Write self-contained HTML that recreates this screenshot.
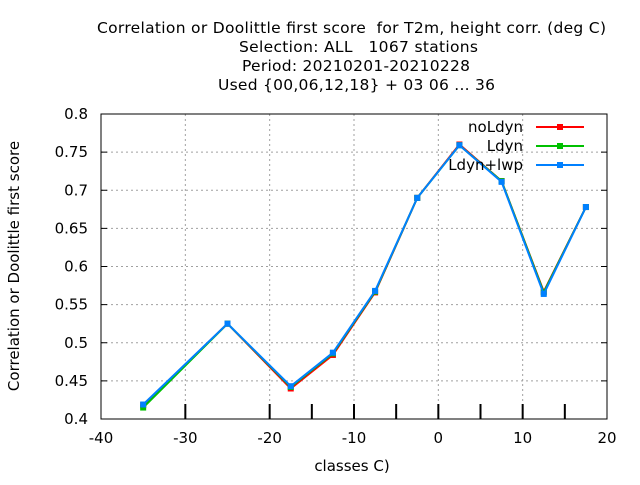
<!DOCTYPE html>
<html><head><meta charset="utf-8"><style>
body{margin:0;background:#fff}
svg text{font-family:"DejaVu Sans","Liberation Sans",sans-serif;font-size:15px;fill:#000;white-space:pre}
svg .tt{font-size:15.5px}
</style></head><body>
<svg id="chart" width="640" height="480">
<g>
<text class="tt" x="97" y="33" textLength="509" xml:space="preserve">Correlation or Doolittle first score  for T2m, height corr. (deg C)</text>
<text class="tt" x="239" y="52" textLength="239" xml:space="preserve">Selection: ALL   1067 stations</text>
<text class="tt" x="242" y="71" textLength="228">Period: 20210201-20210228</text>
<text class="tt" x="218" y="90" textLength="277">Used {00,06,12,18} + 03 06 ... 36</text>
</g>
<g id="grid"></g>
<g id="axes"></g>
<g id="series"></g>
<text x="352" y="471" text-anchor="middle">classes C)</text>
<text transform="translate(19,266) rotate(-90)" text-anchor="middle">Correlation or Doolittle first score</text>
<g id="legend"></g>
</svg>
<script>
const categories=[-35,-25,-17.5,-12.5,-7.5,-2.5,2.5,7.5,12.5,17.5];
const noLdyn=[0.418,0.525,0.440,0.484,0.566,0.690,0.760,0.712,0.567,0.678];
const Ldyn=[0.415,0.525,0.442,0.486,0.567,0.690,0.759,0.712,0.566,0.678];
const LdynLwp=[0.419,0.525,0.443,0.487,0.568,0.690,0.759,0.711,0.564,0.678];
const xTicks=[-40,-30,-20,-10,0,10,20];
const yTicks=[0.4,0.45,0.5,0.55,0.6,0.65,0.7,0.75,0.8];
const yTickLabels=["0.4","0.45","0.5","0.55","0.6","0.65","0.7","0.75","0.8"];
const xMinor=[-30,-20,-15,-10,-5,0,5,10,15];
const seriesNames=["noLdyn","Ldyn","Ldyn+lwp"];
const colors=["#ff0000","#00c000","#0080ff"];
const L=101,R=607,T=114,B=419;
const X=v=>L+(v+40)*(R-L)/60;
const Y=v=>B-(v-0.4)*(B-T)/0.4;
const NS="http://www.w3.org/2000/svg";
function mk(p,tag,a){const e=document.createElementNS(NS,tag);for(const k in a)e.setAttribute(k,a[k]);p.appendChild(e);return e;}
const grid=document.getElementById('grid'),axes=document.getElementById('axes'),ser=document.getElementById('series'),leg=document.getElementById('legend');
xTicks.forEach(t=>{if(t>-40&&t<20){const l=mk(grid,'line',{x1:X(t),x2:X(t),y1:T,y2:B,stroke:'#a0a0a0','stroke-dasharray':'2,3'});

}
const tx=mk(axes,'text',{x:X(t),y:443,'text-anchor':'middle'});tx.textContent=t;

});
yTicks.forEach((t,i)=>{if(i>0&&i<yTicks.length-1){const l=mk(grid,'line',{x1:L,x2:R,y1:Y(t),y2:Y(t),stroke:'#a0a0a0','stroke-dasharray':'2,3'});

}
mk(axes,'line',{x1:L,x2:L+6,y1:Y(t),y2:Y(t),stroke:'#000'});mk(axes,'line',{x1:R,x2:R-6,y1:Y(t),y2:Y(t),stroke:'#000'});
const tx=mk(axes,'text',{x:L-13,y:Y(t)+5,'text-anchor':'end'});tx.textContent=yTickLabels[i];

});
xMinor.forEach(t=>{mk(axes,'line',{x1:X(t),x2:X(t),y1:B,y2:B-15,stroke:'#000','stroke-width':2});});
mk(axes,'rect',{x:L,y:T,width:R-L,height:B-T,fill:'none',stroke:'#000'});
[noLdyn,Ldyn,LdynLwp].forEach((vals,s)=>{
const g=mk(ser,'g',{});


mk(g,'polyline',{points:vals.map((v,i)=>X(categories[i])+','+Y(v)).join(' '),fill:'none',stroke:colors[s],'stroke-width':2});
vals.forEach((v,i)=>{const p=mk(g,'rect',{x:X(categories[i])-3,y:Y(v)-3,width:6,height:6,fill:colors[s]});

});
const ly=127+s*19;
const lt=mk(leg,'text',{x:523,y:ly+5,'text-anchor':'end'});lt.textContent=seriesNames[s];


mk(leg,'line',{x1:536,x2:584,y1:ly,y2:ly,stroke:colors[s],'stroke-width':2});
mk(leg,'rect',{x:557,y:ly-3,width:6,height:6,fill:colors[s]});
});
</script>
</body></html>
